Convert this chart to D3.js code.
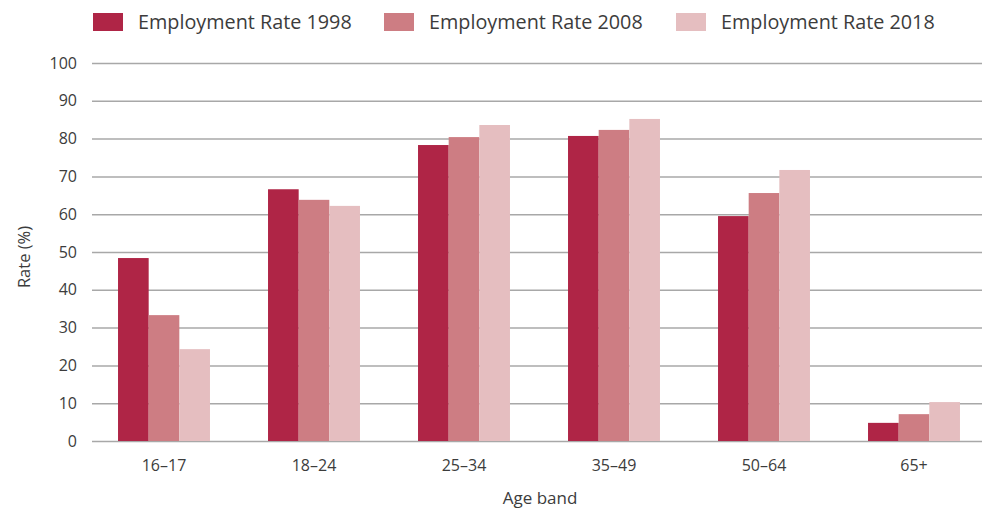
<!DOCTYPE html>
<html>
<head>
<meta charset="utf-8">
<script src="https://cdn.jsdelivr.net/npm/d3@7"></script>
<style>
  body { margin: 0; background: #fff; }
  text { font-family: "Open Sans", "Noto Sans", sans-serif; fill: #3c3c3c; }
</style>
</head>
<body>
<div id="chart"></div>
<script>
var ageBands = ["16–17", "18–24", "25–34", "35–49", "50–64", "65+"];
var seriesNames = ["Employment Rate 1998", "Employment Rate 2008", "Employment Rate 2018"];
var rate1998 = [48.4, 66.6, 78.3, 80.7, 59.5, 4.8];
var rate2008 = [33.3, 63.8, 80.4, 82.3, 65.6, 7.1];
var rate2018 = [24.3, 62.2, 83.6, 85.2, 71.7, 10.3];
var yTicks = [0, 10, 20, 30, 40, 50, 60, 70, 80, 90, 100];
var colours = ["#af2546", "#cd7d83", "#e5bec0"];

var width = 982, height = 508;

var svg = d3.select("#chart")
  .append("svg")
    .attr("width", width)
    .attr("height", height);

var y = d3.scaleLinear()
  .domain([0, 100])
  .range([441, 63]);

var x = d3.scaleBand()
  .domain(ageBands)
  .range([89, 989])
  .paddingInner(0.387)
  .paddingOuter(0.387 / 2);

var x1 = d3.scaleBand()
  .domain(seriesNames)
  .range([0, x.bandwidth()]);

var colour = d3.scaleOrdinal()
  .domain(seriesNames)
  .range(colours);

// gridlines
svg.append("g")
  .selectAll("line")
  .data(yTicks)
  .enter()
  .append("line")
    .attr("x1", 92)
    .attr("x2", 982)
    .attr("y1", function(d) { return y(d) + 0.5; })
    .attr("y2", function(d) { return y(d) + 0.5; })
    .style("stroke", "#a8a8a8")
    .style("stroke-width", 1.5);

// y labels
svg.append("g")
  .selectAll("text")
  .data(yTicks)
  .enter()
  .append("text")
    .attr("x", 77)
    .attr("y", function(d) { return y(d); })
    .attr("dy", "0.35em")
    .attr("text-anchor", "end")
    .style("font-size", "16px")
    .text(function(d) { return d; });

// bars
var rows = ageBands.map(function(a, i) {
  return { band: a, values: [rate1998[i], rate2008[i], rate2018[i]] };
});

var groups = svg.append("g")
  .selectAll("g")
  .data(rows)
  .enter()
  .append("g")
    .attr("transform", function(d) { return "translate(" + x(d.band) + ",0)"; });

groups.selectAll("rect")
  .data(function(d) { return d.values.map(function(v, j) { return { key: seriesNames[j], value: v }; }); })
  .enter()
  .append("rect")
    .attr("x", function(d) { return x1(d.key); })
    .attr("width", x1.bandwidth())
    .attr("y", function(d) { return y(d.value); })
    .attr("height", function(d) { return y(0) - y(d.value); })
    .style("fill", function(d) { return colour(d.key); });

// x labels
svg.append("g")
  .selectAll("text")
  .data(ageBands)
  .enter()
  .append("text")
    .attr("x", function(d) { return x(d) + x.bandwidth() / 2; })
    .attr("y", 465)
    .attr("dy", "0.35em")
    .attr("text-anchor", "middle")
    .style("font-size", "16px")
    .text(function(d) { return d; });

// axis titles
svg.append("text")
  .attr("x", 540)
  .attr("y", 498)
  .attr("dy", "0.35em")
  .attr("text-anchor", "middle")
  .style("font-size", "17px")
  .text("Age band");

svg.append("text")
  .attr("transform", "translate(24,257) rotate(-90)")
  .attr("dy", "0.35em")
  .attr("text-anchor", "middle")
  .style("font-size", "16.5px")
  .text("Rate (%)");

// legend
var legendX = [93, 384, 676];
var legend = svg.append("g")
  .selectAll("g")
  .data(seriesNames)
  .enter()
  .append("g")
    .attr("transform", function(d, i) { return "translate(" + legendX[i] + ",13)"; });

legend.append("rect")
  .attr("width", 30)
  .attr("height", 18)
  .style("fill", function(d) { return colour(d); });

legend.append("text")
  .attr("x", 45)
  .attr("y", 9)
  .attr("dy", "0.35em")
  .style("font-size", "19.8px")
  .text(function(d) { return d; });
</script>
</body>
</html>
